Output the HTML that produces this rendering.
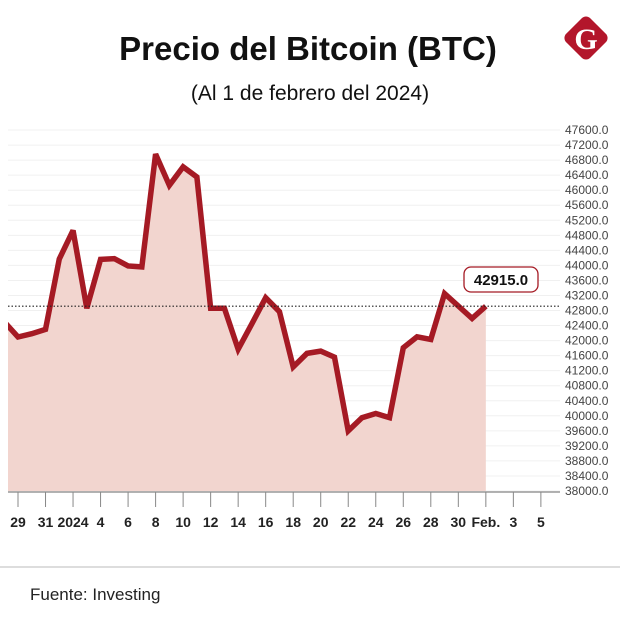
<!DOCTYPE html>
<html><head><meta charset="utf-8"><style>
body{margin:0;background:#fff;width:620px;height:627px;overflow:hidden;font-family:"Liberation Sans",sans-serif}
</style></head><body>
<svg id="c" width="620" height="627">
<text x="308" y="60" text-anchor="middle" font-size="33" font-weight="bold" fill="#111">Precio del Bitcoin (BTC)</text>
<text x="310" y="100" text-anchor="middle" font-size="21" fill="#111">(Al 1 de febrero del 2024)</text>
<g>
<rect x="569" y="21" width="34" height="34" rx="6" fill="#b3162b" transform="rotate(45 586 38)"/>
<text x="586" y="49" text-anchor="middle" font-size="30" font-weight="bold" fill="#fff" font-family="Liberation Serif,serif">G</text>
</g>
<g id="grid"></g><g id="plot"></g><g id="axes"></g>
<line x1="0" y1="567" x2="620" y2="567" stroke="#bbb" stroke-width="1"/>
<text x="30" y="600" font-size="17" fill="#222">Fuente: Investing</text>
</svg>
<script>
const values=[42500,42096,42183,42300,44170,44930,42860,44160,44180,43985,43960,46960,46130,46620,46350,42860,42860,41770,42450,43140,42770,41300,41660,41720,41560,39600,39950,40060,39950,41810,42100,42030,43250,42920,42590,42915];
const startDay=-1; // relative to Dec 29
const tickLabels=["29","31","2024","4","6","8","10","12","14","16","18","20","22","24","26","28","30","Feb.","3","5"];
const yTicks=[38000,38400,38800,39200,39600,40000,40400,40800,41200,41600,42000,42400,42800,43200,43600,44000,44400,44800,45200,45600,46000,46400,46800,47200,47600];
const lastValue=42915;
const NS="http://www.w3.org/2000/svg";
const x=d=>18+13.76*d, y=v=>491-(v-38000)/400*15.04;
function mk(t,a,p){const e=document.createElementNS(NS,t);for(const k in a)e.setAttribute(k,a[k]);p.appendChild(e);return e;}
const grid=document.getElementById('grid'),plot=document.getElementById('plot'),axes=document.getElementById('axes');
const defs=mk('defs',{},plot);const cp=mk('clipPath',{id:'cl'},defs);mk('rect',{x:8,y:0,width:600,height:627},cp);
yTicks.forEach(v=>{
 const l=mk('line',{x1:8,x2:560,y1:y(v),y2:y(v),stroke:'#f0f0f0','stroke-width':1},grid);
 
 
 const t=mk('text',{x:565,y:y(v)+4,'font-size':12,fill:'#444'},axes);t.textContent=v.toFixed(1);
 
 
});
const pts=values.map((v,i)=>[x(startDay+i),y(v)]);
const g=mk('g',{'clip-path':'url(#cl)'},plot);
const area=mk('path',{d:'M'+pts[0][0]+','+y(38000)+' L'+pts.map(p=>p.join(',')).join(' L')+' L'+pts[pts.length-1][0]+','+y(38000)+'Z',fill:'#f2d5cf'},g);


const dl=mk('line',{x1:8,x2:560,y1:y(lastValue),y2:y(lastValue),stroke:'#222','stroke-width':1.2,'stroke-dasharray':'1.5,2'},plot);


const ln=mk('polyline',{points:pts.map(p=>p.join(',')).join(' '),fill:'none',stroke:'#a51a24','stroke-width':5.5,'stroke-linejoin':'miter','stroke-miterlimit':3},g);


const ax=mk('line',{x1:8,x2:560,y1:492,y2:492,stroke:'#999','stroke-width':1.5},axes);


tickLabels.forEach((s,i)=>{
 const xx=x(i*2);
 const tk=mk('line',{x1:xx,x2:xx,y1:492,y2:507,stroke:'#888','stroke-width':1},axes);
 
 
 const t=mk('text',{x:xx,y:527,'text-anchor':'middle','font-size':14,'font-weight':'bold',fill:'#222'},axes);t.textContent=s;
 
 
});
const bx=mk('rect',{x:464,y:267,width:74,height:25,rx:7,fill:'#fff',stroke:'#a51a24','stroke-width':1.3},axes);


const bt=mk('text',{x:501,y:285,'text-anchor':'middle','font-size':15,'font-weight':'bold',fill:'#111'},axes);bt.textContent=lastValue.toFixed(1);


</script>
</body></html>
